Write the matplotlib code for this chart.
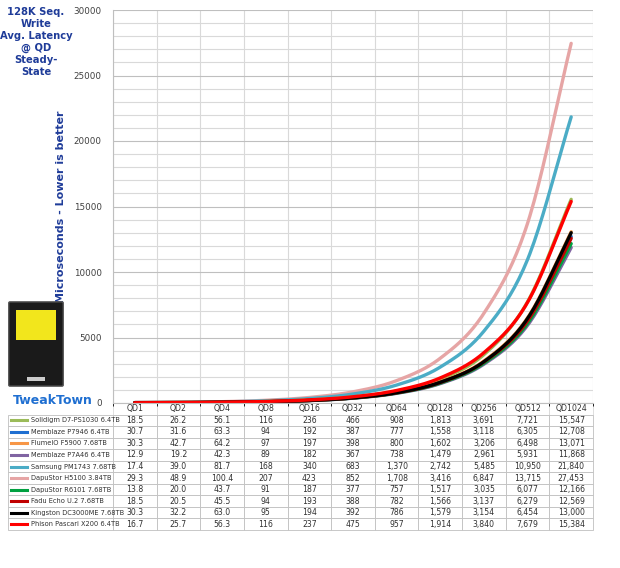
import numpy as np
import matplotlib
matplotlib.use("Agg")
import matplotlib.pyplot as plt
from matplotlib.patches import FancyBboxPatch, Rectangle

categories = ["QD1","QD2","QD4","QD8","QD16","QD32","QD64","QD128","QD256","QD512","QD1024"]
names = ["Solidigm D7-PS1030 6.4TB","Memblaze P7946 6.4TB","FlumeIO F5900 7.68TB",
         "Memblaze P7A46 6.4TB","Samsung PM1743 7.68TB","DapuStor H5100 3.84TB",
         "DapuStor R6101 7.68TB","Fadu Echo U.2 7.68TB","Kingston DC3000ME 7.68TB",
         "Phison Pascari X200 6.4TB"]
solidigm = [18.5,26.2,56.1,116,236,466,908,1813,3691,7721,15547]
memblaze_p7946 = [30.7,31.6,63.3,94,192,387,777,1558,3118,6305,12708]
flumeio = [30.3,42.7,64.2,97,197,398,800,1602,3206,6498,13071]
memblaze_p7a46 = [12.9,19.2,42.3,89,182,367,738,1479,2961,5931,11868]
samsung = [17.4,39.0,81.7,168,340,683,1370,2742,5485,10950,21840]
dapustor_h5100 = [29.3,48.9,100.4,207,423,852,1708,3416,6847,13715,27453]
dapustor_r6101 = [13.8,20.0,43.7,91,187,377,757,1517,3035,6077,12166]
fadu = [18.5,20.5,45.5,94,193,388,782,1566,3137,6279,12569]
kingston = [30.3,32.2,63.0,95,194,392,786,1579,3154,6454,13000]
phison = [16.7,25.7,56.3,116,237,475,957,1914,3840,7679,15384]
series = [solidigm,memblaze_p7946,flumeio,memblaze_p7a46,samsung,dapustor_h5100,
          dapustor_r6101,fadu,kingston,phison]
colors = ["#9bbb59","#1f6fd1","#f79646","#8064a2","#4bacc6","#e6a5a5",
          "#00a040","#c00000","#000000","#ff0000"]
order = [5,4,0,1,2,3,6,7,8,9]

def smooth(y, n=20):
    y = np.asarray(y, float)
    x = np.arange(len(y))
    p = np.concatenate([[2*y[0]-y[1]], y, [2*y[-1]-y[-2]]])
    xs, ys = [], []
    for i in range(len(y)-1):
        p0,p1,p2,p3 = p[i],p[i+1],p[i+2],p[i+3]
        t = np.linspace(0,1,n,endpoint=False)
        v = 0.5*((2*p1)+(-p0+p2)*t+(2*p0-5*p1+4*p2-p3)*t**2+(-p0+3*p1-3*p2+p3)*t**3)
        xs.append(x[i]+t); ys.append(v)
    xs.append([x[-1]]); ys.append([y[-1]])
    return np.concatenate(xs), np.concatenate(ys)

fig = plt.figure(figsize=(6.2,5.68), dpi=100)
ax = fig.add_axes([113/620, 1-403/568, 480/620, 393/568])
for i in order:
    xs, ys = smooth(series[i])
    ax.plot(xs, ys, color=colors[i], lw=2.4, solid_capstyle="round")
ax.set_xlim(-0.5, 10.5)
ax.set_ylim(0, 30000)
ax.set_yticks(range(0,30001,5000))
ax.set_yticks(range(0,30001,1000), minor=True)
ax.set_xticks(np.arange(-0.5,10.6,1), minor=True)
ax.set_xticks([])
ax.grid(True, which="minor", color="#d9d9d9", lw=0.8)
ax.grid(True, which="major", axis="y", color="#bfbfbf", lw=0.8)
ax.tick_params(axis="y", which="both", length=0, labelsize=6.3, labelcolor="#404040", pad=8)
for s in ["top","right"]:
    ax.spines[s].set_visible(False)
ax.spines["left"].set_color("#bfbfbf")
ax.spines["bottom"].set_color("#bfbfbf")
ax.set_ylabel("Microseconds - Lower is better", color="#1f3c99", fontsize=8,
              fontweight="bold")
ax.yaxis.set_label_coords(-(113-66)/480, 0.5)

fig.text(0.058, 0.988, "128K Seq.\nWrite\nAvg. Latency\n@ QD\nSteady-\nState",
         ha="center", va="top", color="#1f3c99", fontsize=7.2, fontweight="bold",
         linespacing=1.25)

def fmt(v, j):
    return f"{v:.1f}" if j < 3 else f"{int(round(v)):,}"

cell = [[""]+categories]
for n, s in zip(names, series):
    cell.append([""]+[fmt(v, j) for j, v in enumerate(s)])
axw = 480.0; axh = 393.0
tb = ax.table(cellText=cell, cellLoc="center",
              bbox=[(8-113)/axw, -127/axh, (593-8)/axw, 127/axh],
              colWidths=[105/585]+[480/11/585]*11)
tb.auto_set_font_size(False)
tb.set_fontsize(5.6)
for (r,c), cl in tb.get_celld().items():
    cl.set_edgecolor("#bfbfbf"); cl.set_linewidth(0.6)
    cl.get_text().set_color("#303030")
    if r == 0:
        cl.set_edgecolor("#d9d9d9")
        if c == 0:
            cl.set_linewidth(0)
rowh = 127/11/axh
x0 = (8-113)/axw
for k in range(10):
    yc = -127/axh + (10-k-0.5)*rowh
    ax.plot([x0+3/axw, x0+19/axw], [yc, yc], transform=ax.transAxes, clip_on=False,
            color=colors[k], lw=2.2)
    ax.text(x0+23/axw, yc, names[k], transform=ax.transAxes, fontsize=4.8,
            color="#303030", va="center", ha="left", clip_on=False)

fig.patches.append(FancyBboxPatch((10/620, 1-385/568), 52/620, 82/568,
    boxstyle="round,pad=0.002", transform=fig.transFigure, fc="#1a1a1a", ec="#555"))
fig.patches.append(Rectangle((16/620, 1-340/568), 40/620, 30/568,
    transform=fig.transFigure, fc="#f2e61c", ec="none"))
fig.patches.append(Rectangle((27/620, 1-381/568), 18/620, 4/568,
    transform=fig.transFigure, fc="#cccccc", ec="none"))
fig.text(0.02, 1-400/568, "TweakTown", color="#1f6fd1", fontsize=9, va="center", fontweight="bold")

fig.savefig("out.png", dpi=100, facecolor="white")
